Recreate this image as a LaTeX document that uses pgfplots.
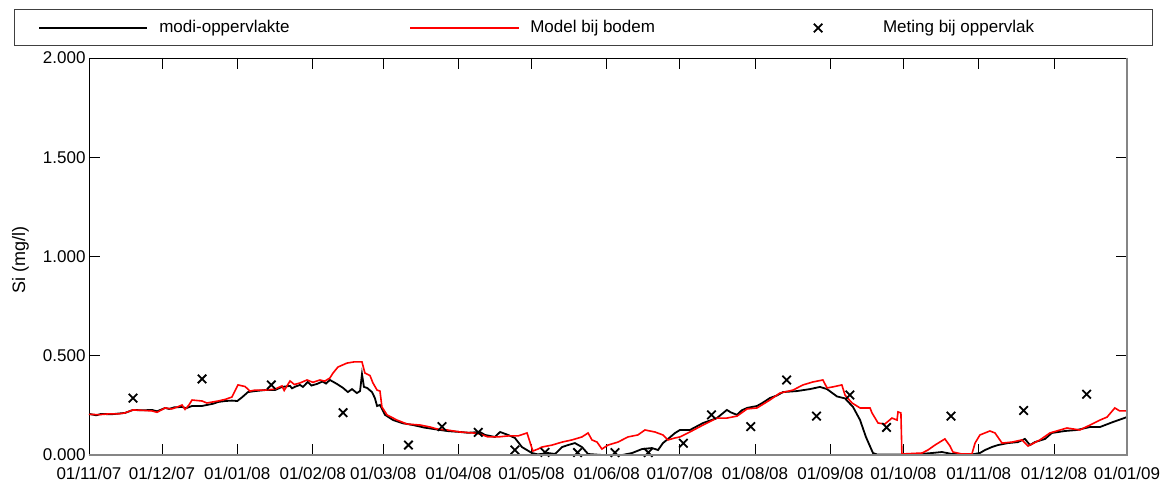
\documentclass[border=0pt]{standalone}
\usepackage{pgfplots}
\pgfplotsset{compat=1.18}
\usepackage{fontspec}
\setmainfont{Liberation Sans}
\definecolor{framegray}{gray}{0.52}

% long legend samples for the two model lines and the measurement crosses
\pgfplotsset{
  longline/.style={legend image code/.code={\draw[##1] (0pt,0pt) -- (108pt,0pt);}},
  longmark/.style={legend image code/.code={%
    \path[draw=none, fill=none] (0pt,0pt) (108pt,0pt);
    \draw[##1] plot[only marks] coordinates {(54pt,0pt)};}},
}

% x = days since 01/11/07, y = Si concentration in mg/l
\begin{document}
\begin{tikzpicture}[x=1pt,y=1pt]
\path[use as bounding box] (0,0) rectangle (1163,482);
\begin{axis}[
  at={(89pt,27pt)}, anchor=south west,
  scale only axis, width=1038pt, height=397pt,
  xmin=0, xmax=427, ymin=0, ymax=2,
  clip=false,
  xtick={0,30,61,92,121,152,182,213,243,274,305,335,366,397,427},
  xticklabels={01/11/07,01/12/07,01/01/08,01/02/08,01/03/08,01/04/08,01/05/08,01/06/08,01/07/08,01/08/08,01/09/08,01/10/08,01/11/08,01/12/08,01/01/09},
  ytick={0,0.5,1,1.5,2},
  yticklabel style={/pgf/number format/.cd, fixed, fixed zerofill, precision=3},
  /pgf/number format/assume math mode=true,
  tick label style={font=\fontsize{17}{20}\selectfont},
  xticklabel style={yshift=-9pt},
  tick align=inside, major tick length=11pt,
  tick style={black, line width=0.8pt},
  axis line style={black, line width=0.8pt},
  ylabel={Si (mg/l)},
  ylabel style={font=\fontsize{18}{20}\selectfont, at={(axis description cs:-0.066,0.49)}, anchor=center},
  legend columns=3,
  legend style={at={(axis description cs:-0.07225,1.1222)}, anchor=north west,
    draw=black!75, line width=1pt, fill=white,
    inner xsep=24pt, inner ysep=10pt,
    font=\fontsize{17}{20}\selectfont,
    nodes={inner sep=0pt, text height=12.5pt, text depth=3.5pt},
    cells={anchor=center},
    /tikz/every odd column/.append style={column sep=11pt},
    /tikz/column 2/.style={column sep=120pt},
    /tikz/column 4/.style={column sep=109pt}},
  after end axis/.code={
    \draw[framegray, line width=2pt] (rel axis cs:0,0) -- (rel axis cs:1,0) -- (rel axis cs:1,1);
  },
]
% surface model
\addplot[black, line width=1.8pt, longline] table {
x y
0 0.207
3 0.200
5 0.207
9 0.205
14.8 0.212
18.1 0.227
22 0.225
25.9 0.227
28 0.220
31.3 0.237
33 0.232
35 0.240
38.3 0.242
40 0.236
42.4 0.247
46.5 0.247
48.5 0.252
51 0.258
53.1 0.267
56 0.272
58.8 0.274
61 0.272
62.9 0.290
65.4 0.317
68.3 0.322
72.4 0.327
76.5 0.327
79.4 0.343
82.7 0.348
83.5 0.336
85 0.345
86.8 0.353
88.0 0.343
90 0.368
91.5 0.350
93.8 0.358
96 0.370
97.5 0.360
99.1 0.378
102.0 0.358
104.5 0.338
106.5 0.317
108.2 0.332
110.2 0.312
111.5 0.322
112.3 0.408
113.1 0.343
114.4 0.338
116.4 0.317
117.6 0.287
118.5 0.247
119.7 0.252
121.8 0.202
125.1 0.176
129 0.160
133.3 0.151
138 0.138
144.4 0.126
148 0.120
152.6 0.116
156 0.112
160.8 0.116
162.9 0.101
167.0 0.091
169.1 0.116
172.4 0.101
175.2 0.086
178.1 0.040
182.2 0.010
184.7 0.003
188.8 0.010
191.7 0.005
194.6 0.040
197.0 0.050
199.9 0.060
202.8 0.040
205.3 0.005
211.0 0.000
219.3 0.000
223.4 0.010
227.5 0.030
231.6 0.035
234.1 0.025
236.1 0.060
238.2 0.081
241.1 0.111
243.1 0.126
247.2 0.126
252.6 0.161
258.3 0.186
262.4 0.227
264 0.215
266.6 0.202
268.5 0.225
270.7 0.237
274.8 0.247
277 0.262
280.1 0.287
283 0.300
285.5 0.317
291.2 0.322
296.6 0.332
300.7 0.343
303.6 0.332
307.7 0.295
311.0 0.285
314.3 0.242
317.2 0.176
319.6 0.091
322.5 0.010
324.1 0.003
330 0.003
340 0.003
346.8 0.010
350.9 0.015
355 0.005
363.2 0.003
366.5 0.010
368.6 0.025
371.4 0.040
373.9 0.050
378.0 0.060
382.1 0.065
385.0 0.081
387.1 0.050
389.1 0.065
393.3 0.081
396.1 0.111
401.5 0.121
406.4 0.126
411.8 0.141
415.9 0.141
421.2 0.166
427 0.191
};
\addlegendentry{modi-oppervlakte}
% bottom model
\addplot[red, line width=1.6pt, longline] table {
x y
0 0.205
4 0.203
8 0.207
12 0.207
14.8 0.212
18.1 0.227
22 0.225
25.9 0.222
28 0.215
31.3 0.237
34 0.232
36 0.240
38.3 0.252
39.5 0.230
41 0.250
42.4 0.277
46.5 0.272
48.5 0.262
53.1 0.272
56 0.280
58.8 0.292
61.3 0.353
64.2 0.345
66.2 0.322
68.3 0.327
72.4 0.327
76.5 0.332
79.4 0.348
80.3 0.325
82.7 0.373
84.5 0.355
86.8 0.363
89.7 0.378
92.1 0.366
95.0 0.378
97 0.372
99.1 0.388
100.4 0.413
102.4 0.443
106.1 0.463
109 0.469
112.3 0.469
113.5 0.413
115.6 0.400
116.8 0.363
118.5 0.327
119.7 0.322
120.5 0.242
122.6 0.202
126.7 0.176
130.8 0.156
136.2 0.151
140.3 0.141
143.2 0.131
147.3 0.126
152.6 0.116
158.0 0.111
160.8 0.106
164.1 0.091
168.2 0.091
172.4 0.096
176.5 0.096
180.2 0.111
181.4 0.065
182.6 0.020
184.7 0.030
186.3 0.040
190.5 0.050
194.6 0.065
198.7 0.076
202.8 0.091
205.3 0.111
206.9 0.076
209.0 0.065
211.0 0.030
213.5 0.050
217.6 0.065
221.7 0.091
225.8 0.101
228.7 0.126
232.8 0.116
236.1 0.101
238.2 0.076
241.1 0.086
243.1 0.091
247.2 0.116
252.6 0.151
258.3 0.186
262.4 0.186
266.6 0.196
270.7 0.232
274.8 0.237
280.1 0.277
284.2 0.312
289.6 0.327
293.7 0.353
297.8 0.368
301.9 0.378
303.6 0.338
306.0 0.343
309.7 0.353
311.0 0.302
313.9 0.262
317.2 0.237
321.3 0.237
322.1 0.212
324.6 0.161
327.4 0.156
330.3 0.186
332.4 0.176
332.8 0.217
334.0 0.212
334.4 0.005
342.7 0.010
345.1 0.025
348.0 0.050
352.1 0.081
354.2 0.045
355.4 0.015
359.1 0.005
363.2 0.005
364.5 0.060
366.5 0.101
370.6 0.121
372.7 0.111
375.6 0.060
379.7 0.065
383.8 0.076
386.3 0.045
391.2 0.076
395.3 0.111
402.3 0.136
407.6 0.126
411.8 0.151
415.9 0.176
418.8 0.191
422.0 0.237
424 0.222
427 0.222
};
\addlegendentry{Model bij bodem}
% surface measurements
\addplot[only marks, mark=x, mark size=6pt, black, line width=1.8pt, longmark] table {
x y
18.1 0.287
46.5 0.383
75.0 0.353
104.5 0.213
131.4 0.050
145.2 0.143
160.1 0.114
175.2 0.025
187.6 0.013
201.0 0.012
216.4 0.012
230.1 0.012
244.5 0.059
256.1 0.202
272.2 0.143
287.0 0.378
299.3 0.196
313.0 0.302
328.1 0.139
354.6 0.196
384.5 0.224
410.4 0.306
};
\addlegendentry{\makebox[245pt][l]{Meting bij oppervlak}}
\end{axis}
\end{tikzpicture}
\end{document}
